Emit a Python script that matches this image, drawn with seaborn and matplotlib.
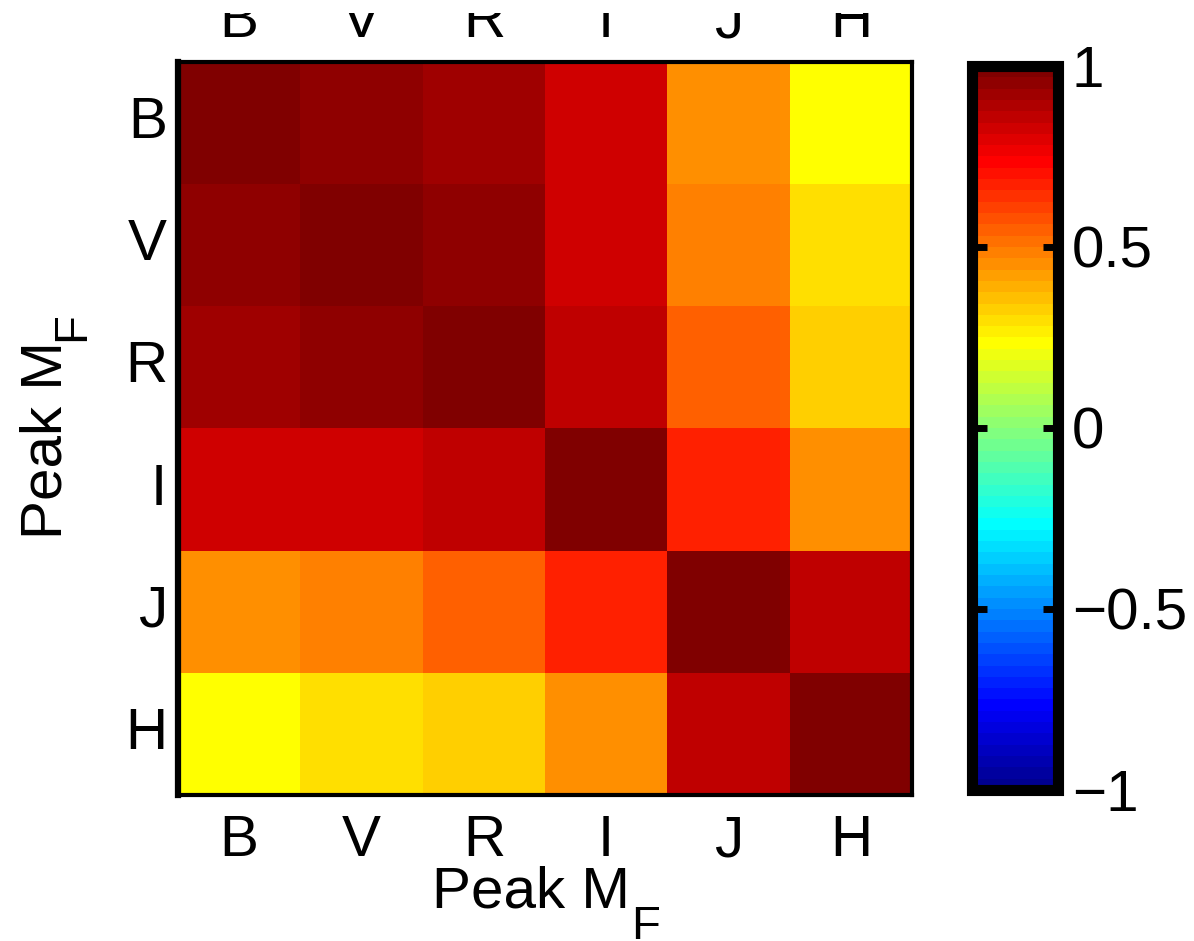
import numpy as np
import pandas as pd
import matplotlib
matplotlib.use("Agg")
import matplotlib.pyplot as plt
from matplotlib.colors import ListedColormap
from matplotlib.patches import Rectangle
from matplotlib.transforms import ScaledTranslation
import seaborn as sns

# Photometric bands and the correlation of peak magnitudes between them
bands = ["B", "V", "R", "I", "J", "H"]
row_B = [1.00, 0.95, 0.92, 0.83, 0.45, 0.23]
row_V = [0.95, 1.00, 0.95, 0.83, 0.48, 0.30]
row_R = [0.92, 0.95, 1.00, 0.86, 0.55, 0.33]
row_I = [0.83, 0.83, 0.86, 1.00, 0.67, 0.45]
row_J = [0.45, 0.48, 0.55, 0.67, 1.00, 0.86]
row_H = [0.23, 0.30, 0.33, 0.45, 0.86, 1.00]

cbar_ticks = [-1, -0.5, 0, 0.5, 1]
cbar_ticklabels = ["\u22121", "\u22120.5", "0", "0.5", "1"]

axis_label = "Peak M"
axis_label_sub = "F"


def classic_jet(m=64):
    """64-step jet palette with dark-red / dark-blue ends."""
    n = int(np.ceil(m / 4))
    u = np.concatenate([np.arange(1, n + 1) / n, np.ones(n - 1), np.arange(n, 0, -1) / n])
    g = int(np.ceil(n / 2)) - (1 if m % 4 == 1 else 0) + np.arange(1, len(u) + 1)
    r = g + n
    b = g - n
    g = g[g <= m]
    r = r[r <= m]
    b = b[b >= 1]
    J = np.zeros((m, 3))
    J[r - 1, 0] = u[: len(r)]
    J[g - 1, 1] = u[: len(g)]
    J[b - 1, 2] = u[len(u) - len(b):]
    return ListedColormap(J)


corr = pd.DataFrame([row_B, row_V, row_R, row_I, row_J, row_H], index=bands, columns=bands)

sns.set_theme(style="white")
plt.rcParams["font.family"] = ["Liberation Sans", "DejaVu Sans"]
plt.rcParams["text.color"] = "black"

fs = 42
fs_sub = 34
fig = plt.figure(figsize=(11.94, 9.41), dpi=100)
ax = fig.add_axes([0.1491, 0.1552, 0.6147, 0.779])
cax = fig.add_axes([0.8141, 0.1605, 0.072, 0.7694])

sns.heatmap(corr, ax=ax, cbar_ax=cax, cmap=classic_jet(64), vmin=-1, vmax=1,
            square=False, linewidths=0)

for side in ["left", "right", "top", "bottom"]:
    ax.spines[side].set_visible(True)
    ax.spines[side].set_color("black")
    ax.spines[side].set_linewidth(3)
ax.spines["left"].set_linewidth(4.5)

ax.tick_params(axis="x", top=True, labeltop=True, bottom=True, labelbottom=True,
               length=0, pad=14, labelsize=fs, labelcolor="black", rotation=0)
ax.tick_params(axis="y", left=True, labelleft=True, length=0, pad=8,
               labelsize=fs, labelcolor="black", rotation=0)

# the upper row of band names sits a little closer to the frame
shift_down = ScaledTranslation(0, -7 / 100, fig.dpi_scale_trans)
for t in ax.xaxis.get_major_ticks():
    t.label2.set_transform(t.label2.get_transform() + shift_down)

# x label with a large, deeply dropped subscript
xl = ax.set_xlabel(axis_label, fontsize=fs, color="black")
ax.xaxis.set_label_coords(0.481, -0.0969)
ax.annotate(axis_label_sub, xy=(1, 0), xycoords=xl, xytext=(0.5, -14.0),
            textcoords="offset points", fontsize=fs_sub, color="black",
            ha="left", va="baseline", annotation_clip=False)

yl = ax.set_ylabel(axis_label, fontsize=fs, color="black")
ax.yaxis.set_label_coords(-0.143, 0.484)
ax.annotate(axis_label_sub, xy=(1, 1), xycoords=yl, xytext=(8.3, 0.5),
            textcoords="offset points", fontsize=fs_sub, color="black",
            rotation=90, rotation_mode="anchor", ha="left", va="baseline",
            annotation_clip=False)

cb = ax.collections[0].colorbar
cb.set_ticks(cbar_ticks)
cb.set_ticklabels(cbar_ticklabels)
cb.outline.set_visible(True)
cb.outline.set_edgecolor("black")
cb.outline.set_linewidth(8)
# inward tick stubs on both sides, drawn over the colour strip
cax.set_axisbelow(False)
cax.tick_params(axis="y", which="both", direction="in", left=True, right=True,
                length=11, width=5, color="black", labelsize=fs,
                labelcolor="black", pad=10)

# blank top margin band of the canvas
fig.patches.append(Rectangle((0, 1 - 13 / 941), 1, 13 / 941, transform=fig.transFigure,
                             facecolor="white", edgecolor="none", zorder=10))

fig.savefig("out.png", dpi=100, facecolor="white")
